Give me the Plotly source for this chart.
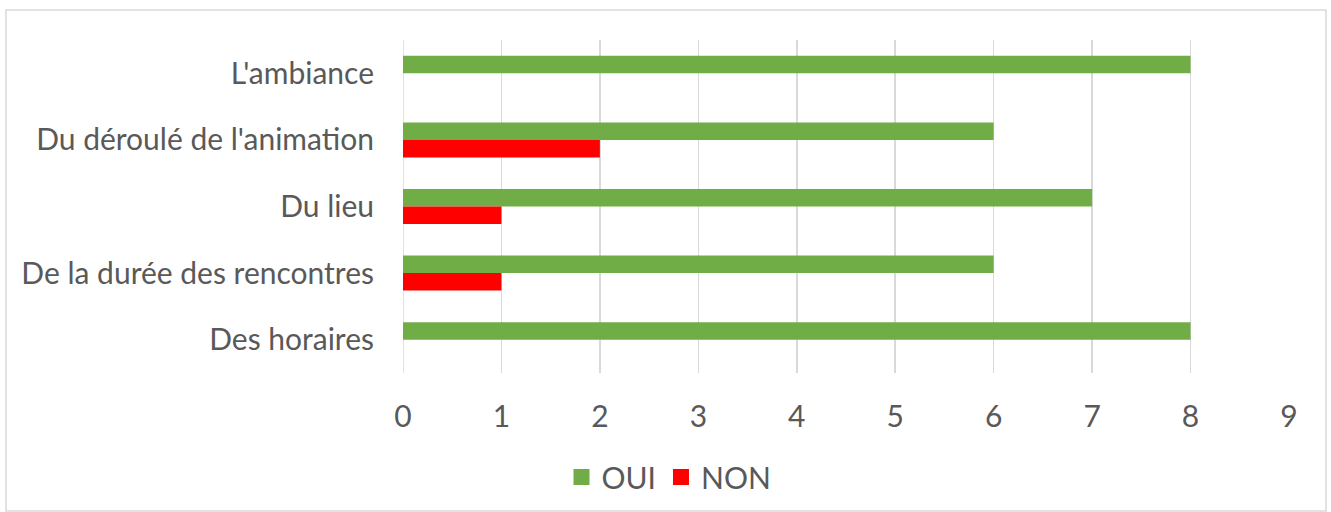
import plotly.graph_objects as go

categories = ["L'ambiance", "Du déroulé de l'animation", "Du lieu",
              "De la durée des rencontres", "Des horaires"]
oui = [8, 6, 7, 6, 8]
non = [0, 2, 1, 1, 0]
series_names = ["OUI", "NON"]
series_colors = ["#70ad47", "#ff0000"]
x_ticks = list(range(0, 10))

W, H = 1331, 512
L, R, T, B = 403, 42, 40, 139
pw, ph = W - L - R, H - T - B

font = dict(family="Lato, 'Open Sans', sans-serif", size=30, color="#595959")


def px_x(p):
    return (p - L) / pw


def px_y(p):
    return (ph + T - p) / ph


fig = go.Figure()
for name, vals, col in zip(series_names, [oui, non], series_colors):
    fig.add_trace(go.Bar(y=categories, x=vals, name=name, orientation="h",
                         marker=dict(color=col, line=dict(width=0)),
                         showlegend=False))
# legend proxies (larger square symbols)
for name, col in zip(series_names, series_colors):
    fig.add_trace(go.Scatter(x=[None], y=[None], mode="markers", name=name,
                             marker=dict(symbol="square", size=16, color=col,
                                         line=dict(width=0)),
                             showlegend=True, hoverinfo="skip"))

fig.update_layout(
    width=W, height=H,
    margin=dict(l=L, r=R, t=T, b=B, autoexpand=False),
    paper_bgcolor="white", plot_bgcolor="white",
    barmode="group", bargap=0.475, bargroupgap=0,
    font=font,
    showlegend=True,
    legend=dict(orientation="h", x=px_x(669), xanchor="center",
                y=px_y(477), yanchor="middle", itemsizing="trace",
                font=font, itemwidth=30, tracegroupgap=0),
    xaxis=dict(range=[0, 9], tickvals=x_ticks, showgrid=True, gridcolor="#d9d9d9",
               gridwidth=1.5, zeroline=False, showline=False, ticks="",
               ticklabelstandoff=23, tickfont=font, fixedrange=True),
    yaxis=dict(autorange="reversed", showgrid=False, showline=False, zeroline=False,
               ticks="", ticklabelstandoff=28, tickfont=font, fixedrange=True),
    shapes=[dict(type="rect", xref="paper", yref="paper",
                 x0=px_x(6), x1=px_x(1326), y0=px_y(511), y1=px_y(10),
                 line=dict(color="#d9d9d9", width=1.5), fillcolor="rgba(0,0,0,0)",
                 layer="below"),
            dict(type="line", xref="x", yref="paper", x0=0, x1=0, y0=0, y1=1,
                 line=dict(color="#d9d9d9", width=1.5), layer="below")],
)

fig.write_html("out.html",
               config={"displayModeBar": False, "staticPlot": True},
               post_script="document.body.style.margin='0';"
                           "document.body.style.overflow='hidden';")
